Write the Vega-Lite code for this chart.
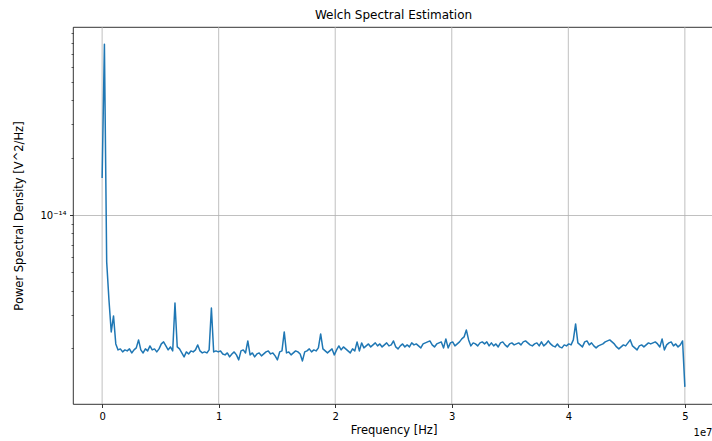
{
  "$schema": "https://vega.github.io/schema/vega-lite/v6.json",
  "width": 641,
  "height": 377,
  "autosize": {"type": "none"},
  "padding": {"left": 73, "top": 27, "right": 0, "bottom": 37},
  "background": "white",
  "title": {
    "text": "Welch Spectral Estimation",
    "font": "DejaVu Sans",
    "fontSize": 12,
    "fontWeight": "normal",
    "color": "black",
    "anchor": "middle",
    "frame": "group",
    "offset": 5
  },
  "config": {
    "view": {"stroke": "black", "strokeWidth": 0.8},
    "axis": {
      "domain": false,
      "labelFont": "DejaVu Sans",
      "labelFontSize": 10,
      "labelColor": "black",
      "titleFont": "DejaVu Sans",
      "titleFontSize": 11.5,
      "titleFontWeight": "normal",
      "titleColor": "black",
      "tickColor": "black"
    }
  },
  "layer": [
    {
      "data": {"values": [{"tick": 0}, {"tick": 10000000}, {"tick": 20000000}, {"tick": 30000000}, {"tick": 40000000}, {"tick": 50000000}]},
      "mark": {"type": "rule", "color": "#b0b0b0", "strokeWidth": 0.8},
      "encoding": {
        "x": {
          "field": "tick",
          "type": "quantitative",
          "scale": {"type": "linear", "domain": [-2500000, 52500000], "nice": false, "zero": false},
          "axis": {
            "orient": "bottom",
            "title": "1e7",
            "titleFontSize": 10,
            "labels": false,
            "ticks": false,
            "grid": false,
            "titleAnchor": "end",
            "titleAlign": "right",
            "titleBaseline": "alphabetic",
            "titleX": 639,
            "titleY": 31
          }
        }
      }
    },
    {
      "data": {
        "values": "f,psd\n0,1.563e-14\n195312.5,7.884e-14\n390625,5.668e-15\n585937.5,3.582e-15\n781250,2.434e-15\n976562.5,2.954e-15\n1171875,2.106e-15\n1367187.5,1.959e-15\n1562500,1.983e-15\n1757812.5,1.912e-15\n1953125,1.959e-15\n2148437.5,1.935e-15\n2343750,1.983e-15\n2539062.5,1.889e-15\n2734375,1.959e-15\n2929687.5,2.007e-15\n3125000,2.211e-15\n3320312.5,1.959e-15\n3515625,1.889e-15\n3710937.5,1.983e-15\n3906250,1.935e-15\n4101562.5,2.056e-15\n4296875,1.959e-15\n4492187.5,1.983e-15\n4687500,1.912e-15\n4882812.5,1.983e-15\n5078125,2.106e-15\n5273437.5,2.158e-15\n5468750,2.056e-15\n5664062.5,1.959e-15\n5859375,2.031e-15\n6054687.5,1.935e-15\n6250000,3.455e-15\n6445312.5,2.031e-15\n6640625,1.983e-15\n6835937.5,1.889e-15\n7031250,1.800e-15\n7226562.5,1.912e-15\n7421875,1.866e-15\n7617187.5,1.935e-15\n7812500,1.912e-15\n8007812.5,1.959e-15\n8203125,2.081e-15\n8398437.5,1.935e-15\n8593750,1.889e-15\n8789062.5,1.912e-15\n8984375,1.889e-15\n9179687.5,1.959e-15\n9375000,3.253e-15\n9570312.5,1.912e-15\n9765625,1.935e-15\n9960937.5,1.912e-15\n10156250,1.935e-15\n10351562.5,1.866e-15\n10546875,1.844e-15\n10742187.5,1.889e-15\n10937500,1.800e-15\n11132812.5,1.866e-15\n11328125,1.912e-15\n11523437.5,1.844e-15\n11718750,1.736e-15\n11914062.5,1.935e-15\n12109375,1.959e-15\n12304687.5,1.889e-15\n12500000,2.184e-15\n12695312.5,1.844e-15\n12890625,1.889e-15\n13085937.5,1.800e-15\n13281250,1.866e-15\n13476562.5,1.889e-15\n13671875,1.822e-15\n13867187.5,1.866e-15\n14062500,1.912e-15\n14257812.5,1.935e-15\n14453125,1.866e-15\n14648437.5,1.889e-15\n14843750,1.822e-15\n15039062.5,1.736e-15\n15234375,1.912e-15\n15429687.5,1.935e-15\n15625000,2.434e-15\n15820312.5,1.889e-15\n16015625,1.912e-15\n16210937.5,1.844e-15\n16406250,1.889e-15\n16601562.5,1.935e-15\n16796875,1.912e-15\n16992187.5,1.866e-15\n17187500,1.715e-15\n17382812.5,1.912e-15\n17578125,1.935e-15\n17773437.5,1.983e-15\n17968750,1.912e-15\n18164062.5,1.959e-15\n18359375,1.935e-15\n18554687.5,2.007e-15\n18750000,2.377e-15\n18945312.5,1.983e-15\n19140625,1.935e-15\n19335937.5,1.889e-15\n19531250,1.935e-15\n19726562.5,1.983e-15\n19921875,1.844e-15\n20117187.5,1.959e-15\n20312500,2.056e-15\n20507812.5,1.959e-15\n20703125,2.031e-15\n20898437.5,1.983e-15\n21093750,1.935e-15\n21289062.5,1.889e-15\n21484375,1.983e-15\n21679687.5,1.935e-15\n21875000,2.158e-15\n22070312.5,1.935e-15\n22265625,2.132e-15\n22460937.5,2.007e-15\n22656250,2.056e-15\n22851562.5,2.106e-15\n23046875,2.031e-15\n23242187.5,2.081e-15\n23437500,2.132e-15\n23632812.5,2.056e-15\n23828125,2.106e-15\n24023437.5,2.031e-15\n24218750,2.081e-15\n24414062.5,2.132e-15\n24609375,2.056e-15\n24804687.5,2.081e-15\n25000000,2.184e-15\n25195312.5,2.031e-15\n25390625,1.983e-15\n25585937.5,2.056e-15\n25781250,2.106e-15\n25976562.5,2.031e-15\n26171875,2.081e-15\n26367187.5,2.031e-15\n26562500,2.132e-15\n26757812.5,2.081e-15\n26953125,2.106e-15\n27148437.5,2.056e-15\n27343750,2.007e-15\n27539062.5,2.106e-15\n27734375,2.132e-15\n27929687.5,2.158e-15\n28125000,2.184e-15\n28320312.5,2.081e-15\n28515625,2.031e-15\n28710937.5,2.106e-15\n28906250,2.132e-15\n29101562.5,2.158e-15\n29296875,2.007e-15\n29492187.5,2.238e-15\n29687500,2.007e-15\n29882812.5,2.132e-15\n30078125,2.158e-15\n30273437.5,2.056e-15\n30468750,2.106e-15\n30664062.5,2.158e-15\n30859375,2.238e-15\n31054687.5,2.292e-15\n31250000,2.494e-15\n31445312.5,2.211e-15\n31640625,2.056e-15\n31835937.5,2.132e-15\n32031250,2.106e-15\n32226562.5,2.056e-15\n32421875,2.132e-15\n32617187.5,2.158e-15\n32812500,2.106e-15\n33007812.5,2.158e-15\n33203125,2.056e-15\n33398437.5,2.132e-15\n33593750,2.056e-15\n33789062.5,2.106e-15\n33984375,2.031e-15\n34179687.5,2.132e-15\n34375000,2.158e-15\n34570312.5,2.081e-15\n34765625,2.031e-15\n34960937.5,2.106e-15\n35156250,2.132e-15\n35351562.5,2.081e-15\n35546875,2.106e-15\n35742187.5,2.132e-15\n35937500,2.081e-15\n36132812.5,2.158e-15\n36328125,2.184e-15\n36523437.5,2.132e-15\n36718750,2.081e-15\n36914062.5,2.056e-15\n37109375,2.106e-15\n37304687.5,2.132e-15\n37500000,2.056e-15\n37695312.5,2.158e-15\n37890625,2.056e-15\n38085937.5,2.106e-15\n38281250,2.184e-15\n38476562.5,2.106e-15\n38671875,2.056e-15\n38867187.5,2.031e-15\n39062500,2.106e-15\n39257812.5,2.031e-15\n39453125,2.007e-15\n39648437.5,2.081e-15\n39843750,2.056e-15\n40039062.5,2.106e-15\n40234375,2.081e-15\n40429687.5,2.211e-15\n40625000,2.682e-15\n40820312.5,2.132e-15\n41015625,2.081e-15\n41210937.5,2.031e-15\n41406250,2.158e-15\n41601562.5,2.184e-15\n41796875,2.081e-15\n41992187.5,2.132e-15\n42187500,2.056e-15\n42382812.5,2.007e-15\n42578125,2.056e-15\n42773437.5,2.081e-15\n42968750,2.106e-15\n43164062.5,2.158e-15\n43359375,2.184e-15\n43554687.5,2.211e-15\n43750000,2.158e-15\n43945312.5,2.106e-15\n44140625,2.031e-15\n44335937.5,1.983e-15\n44531250,2.031e-15\n44726562.5,2.081e-15\n44921875,2.056e-15\n45117187.5,2.132e-15\n45312500,2.211e-15\n45507812.5,2.056e-15\n45703125,2.007e-15\n45898437.5,1.959e-15\n46093750,2.056e-15\n46289062.5,2.081e-15\n46484375,2.031e-15\n46679687.5,2.081e-15\n46875000,2.132e-15\n47070312.5,2.106e-15\n47265625,2.132e-15\n47460937.5,2.158e-15\n47656250,2.106e-15\n47851562.5,2.031e-15\n48046875,2.238e-15\n48242187.5,1.959e-15\n48437500,2.081e-15\n48632812.5,2.132e-15\n48828125,2.158e-15\n49023437.5,2.056e-15\n49218750,2.106e-15\n49414062.5,2.031e-15\n49609375,2.081e-15\n49804687.5,2.184e-15\n50000000,1.253e-15",
        "format": {"type": "csv", "parse": {"f": "number", "psd": "number"}}
      },
      "mark": {"type": "line", "color": "#1f77b4", "strokeWidth": 1.5, "strokeJoin": "round", "strokeCap": "butt"},
      "encoding": {
        "x": {
          "field": "f",
          "type": "quantitative",
          "scale": {"type": "linear", "domain": [-2500000, 52500000], "nice": false, "zero": false},
          "axis": {
            "orient": "bottom",
            "title": "Frequency [Hz]",
            "values": [0, 10000000, 20000000, 30000000, 40000000, 50000000],
            "labelExpr": "datum.value / 10000000",
            "grid": false,
            "tickSize": 3.5,
            "tickWidth": 0.8,
            "labelPadding": 3.5,
            "titlePadding": 3,
            "labelFlush": false,
            "labelOverlap": false
          }
        },
        "y": {
          "field": "psd",
          "type": "quantitative",
          "scale": {"type": "log", "domain": [1.019e-15, 9.7e-14], "nice": false, "zero": false},
          "axis": {
            "title": "Power Spectral Density [V^2/Hz]",
            "titleX": -54,
            "titleY": 188.5,
            "titleAngle": -90,
            "titleAlign": "center",
            "titleBaseline": "middle",
            "values": [2e-15, 3e-15, 4e-15, 5e-15, 6e-15, 7e-15, 8e-15, 9e-15, 1e-14, 2e-14, 3e-14, 4e-14, 5e-14, 6e-14, 7e-14, 8e-14, 9e-14],
            "labelExpr": "datum.value == 1e-14 ? '10⁻¹⁴' : ''",
            "labelOverlap": false,
            "labelFlush": false,
            "labelPadding": 3.5,
            "grid": true,
            "gridColor": "#b0b0b0",
            "gridWidth": 0.8,
            "gridOpacity": {"condition": {"test": "datum.value == 1e-14", "value": 1}, "value": 0},
            "tickSize": {"condition": {"test": "datum.value == 1e-14", "value": 3.5}, "value": 2},
            "tickWidth": {"condition": {"test": "datum.value == 1e-14", "value": 0.8}, "value": 0.6}
          }
        }
      }
    }
  ],
  "resolve": {"axis": {"x": "independent"}}
}
